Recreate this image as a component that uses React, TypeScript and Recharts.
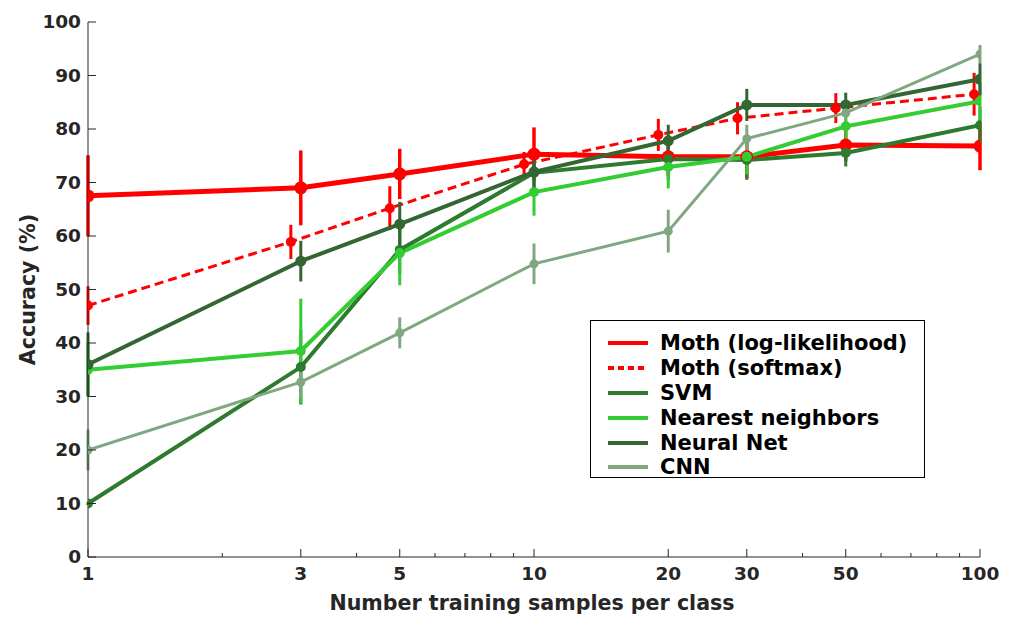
import { LineChart, Line, XAxis, YAxis, ErrorBar, Legend } from 'recharts';

// training samples per class (log axis)
const SAMPLES = [1, 3, 5, 10, 20, 30, 50, 100];
// softmax points are drawn slightly left of the others
const SOFTMAX_X = [1, 2.85, 4.75, 9.5, 19, 28.6, 47.5, 97];

const LOGLIK = [67.5, 69, 71.6, 75.3, 74.8, 74.8, 77, 76.8];
const LOGLIK_ERR = [7.6, 7, 4.7, 5, 3.5, 4, 3, 4.5];
const SOFTMAX = [47, 58.9, 65.2, 73.4, 78.9, 82, 83.9, 86.5];
const SOFTMAX_ERR = [3.6, 3.2, 4.1, 2.3, 3, 3, 2.8, 4];
const SVM = [10, 35.5, 57.4, 71.8, 74.4, 74.2, 75.5, 80.7];
const SVM_ERR = [0.3, 7, 4.5, 3.5, 4, 3.7, 2.5, 3.4];
const KNN = [35, 38.5, 56.8, 68.2, 72.9, 74.8, 80.5, 85.2];
const KNN_ERR = [5, 9.8, 6, 4.4, 4, 3.3, 4, 3.5];
const NEURAL = [36, 55.3, 62.2, 72, 77.8, 84.5, 84.5, 89.3];
const NEURAL_ERR = [6, 3.8, 4.2, 4, 3, 3, 2.3, 3];
const CNN = [20, 32.7, 41.9, 54.8, 60.9, 78.2, 83, 94];
const CNN_ERR = [3.8, 3, 2.9, 3.8, 4, 2.6, 2, 1.7];

const X_TICKS = [1, 2, 3, 4, 5, 6, 7, 8, 9, 10, 20, 30, 40, 50, 60, 70, 80, 90, 100];
const X_LABELED = [1, 3, 5, 10, 20, 30, 50, 100];
const Y_TICKS = [0, 10, 20, 30, 40, 50, 60, 70, 80, 90, 100];

const toPoints = (xs: number[], ys: number[], errs: number[]) =>
  xs.map((x, i) => ({ x, y: ys[i], err: errs[i] }));

const SERIES = [
  { name: 'Moth (log-likelihood)', color: '#ff0000', width: 5, dash: undefined, r: 6.5, barW: 3.5, data: toPoints(SAMPLES, LOGLIK, LOGLIK_ERR) },
  { name: 'Moth (softmax)', color: '#ff0000', width: 3, dash: '9 5', r: 5, barW: 3, data: toPoints(SOFTMAX_X, SOFTMAX, SOFTMAX_ERR) },
  { name: 'SVM', color: '#2e7b30', width: 4, dash: undefined, r: 5, barW: 3, data: toPoints(SAMPLES, SVM, SVM_ERR) },
  { name: 'Nearest neighbors', color: '#33cc33', width: 4, dash: undefined, r: 5, barW: 3, data: toPoints(SAMPLES, KNN, KNN_ERR) },
  { name: 'Neural Net', color: '#336633', width: 4, dash: undefined, r: 5.5, barW: 3, data: toPoints(SAMPLES, NEURAL, NEURAL_ERR) },
  { name: 'CNN', color: '#80a880', width: 3, dash: undefined, r: 4.5, barW: 3, data: toPoints(SAMPLES, CNN, CNN_ERR) },
];

const FONT = '"DejaVu Sans", sans-serif';
const TEXT = '#262626';

function BottomTick({ x, y, payload }: any) {
  const major = X_LABELED.includes(payload.value);
  return (
    <g>
      <line x1={x} x2={x} y1={y} y2={y - (major ? 8 : 4)} stroke={TEXT} strokeWidth={1} />
      {major && (
        <text x={x} y={y + 10} dy="0.71em" textAnchor="middle" fontFamily={FONT} fontWeight="bold" fontSize={18.5} fill={TEXT}>
          {payload.value}
        </text>
      )}
    </g>
  );
}

function TopTick({ x, y, payload }: any) {
  const major = X_LABELED.includes(payload.value);
  return <line x1={x} x2={x} y1={y} y2={y + (major ? 8 : 4)} stroke={TEXT} strokeWidth={1} />;
}

function LeftTick({ x, y, payload }: any) {
  return (
    <g>
      <line x1={x} x2={x + 8} y1={y} y2={y} stroke={TEXT} strokeWidth={1} />
      <text x={x - 7} y={y} dy="0.35em" textAnchor="end" fontFamily={FONT} fontWeight="bold" fontSize={18.5} fill={TEXT}>
        {payload.value}
      </text>
    </g>
  );
}

function RightTick({ x, y }: any) {
  return <line x1={x} x2={x - 8} y1={y} y2={y} stroke={TEXT} strokeWidth={1} />;
}

function LegendBox() {
  return (
    <div style={{ border: '1px solid #000', background: '#fff', width: 335, height: 158, boxSizing: 'border-box', paddingTop: 10 }}>
      {SERIES.map(s => (
        <div key={s.name} style={{ display: 'flex', alignItems: 'center', height: 24.8 }}>
          <svg width={69} height={10}>
            <line x1={17} x2={57} y1={5} y2={5} stroke={s.color} strokeWidth={4} strokeDasharray={s.dash ? '6 4' : undefined} />
          </svg>
          <span style={{ fontFamily: FONT, fontWeight: 'bold', fontSize: 21, color: '#000', whiteSpace: 'nowrap' }}>{s.name}</span>
        </div>
      ))}
    </div>
  );
}

export default function App() {
  return (
    <div style={{ width: 1023, height: 630, background: '#fff', position: 'relative' }}>
      <style>{'body{margin:0}'}</style>
      <LineChart width={1023} height={630} margin={{ top: 22, right: 43, bottom: 0, left: 0 }}>
        <XAxis
          xAxisId="b"
          dataKey="x"
          type="number"
          scale="log"
          domain={[1, 100]}
          allowDataOverflow
          ticks={X_TICKS}
          interval={0}
          height={73}
          stroke={TEXT}
          tickLine={false}
          tickSize={0}
          tickMargin={0}
          tick={<BottomTick />}
          label={({ viewBox }: any) => (
            <text x={viewBox.x + viewBox.width / 2 - 2} y={viewBox.y + 46} dy="0.35em" textAnchor="middle" fontFamily={FONT} fontWeight="bold" fontSize={20.6} fill={TEXT}>
              Number training samples per class
            </text>
          )}
        />
        <XAxis
          xAxisId="t"
          orientation="top"
          dataKey="x"
          type="number"
          scale="log"
          domain={[1, 100]}
          allowDataOverflow
          ticks={X_TICKS}
          interval={0}
          height={0}
          stroke={TEXT}
          tickLine={false}
          tickSize={0}
          tickMargin={0}
          tick={<TopTick />}
        />
        <YAxis
          yAxisId="l"
          type="number"
          domain={[0, 100]}
          ticks={Y_TICKS}
          interval={0}
          width={88}
          stroke={TEXT}
          tickLine={false}
          tickSize={0}
          tickMargin={0}
          tick={<LeftTick />}
          label={({ viewBox }: any) => (
            <text
              x={28}
              y={viewBox.y + viewBox.height / 2}
              transform={`rotate(-90 28 ${viewBox.y + viewBox.height / 2})`}
              dy="0.35em"
              textAnchor="middle"
              fontFamily={FONT}
              fontWeight="bold"
              fontSize={20.6}
              fill={TEXT}
            >
              Accuracy (%)
            </text>
          )}
        />
        <YAxis
          yAxisId="r"
          orientation="right"
          type="number"
          domain={[0, 100]}
          ticks={Y_TICKS}
          interval={0}
          width={0}
          stroke={TEXT}
          tickLine={false}
          tickSize={0}
          tickMargin={0}
          tick={<RightTick />}
        />
        {SERIES.map(s => (
          <Line
            key={s.name}
            xAxisId="b"
            yAxisId="l"
            data={s.data}
            dataKey="y"
            name={s.name}
            stroke={s.color}
            strokeWidth={s.width}
            strokeDasharray={s.dash}
            dot={{ r: s.r, fill: s.color, stroke: s.color, strokeWidth: 0, strokeDasharray: '' }}
            isAnimationActive={false}
          >
            <ErrorBar dataKey="err" direction="y" width={0} stroke={s.color} strokeWidth={s.barW} isAnimationActive={false} />
          </Line>
        ))}
        <Legend
          layout="vertical"
          align="center"
          verticalAlign="middle"
          content={() => <LegendBox />}
          wrapperStyle={{ left: 590, top: 320, width: 335 }}
        />
      </LineChart>
    </div>
  );
}
